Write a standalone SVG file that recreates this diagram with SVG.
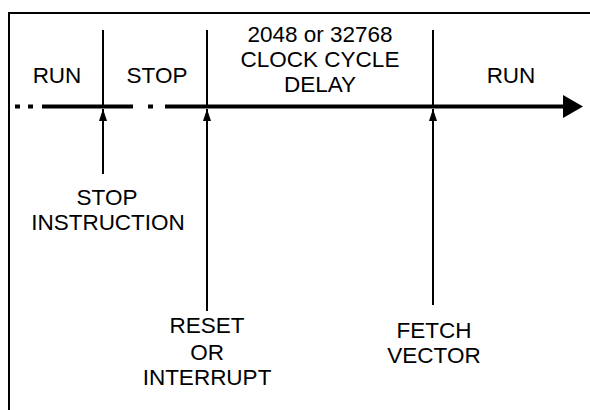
<svg xmlns="http://www.w3.org/2000/svg" width="590" height="410" viewBox="0 0 590 410">
<defs>
<style>
text{font-family:"Liberation Sans",Arial,sans-serif;font-size:22.5px;fill:#000;text-anchor:middle}
.thin{stroke:#000;stroke-width:2;fill:none}
.time{stroke:#000;stroke-width:4;fill:none}
</style>
<marker id="up" viewBox="0 0 12 8" refX="12" refY="4" markerWidth="12" markerHeight="8" markerUnits="userSpaceOnUse" orient="auto">
<path d="M0,0 L12,4 L0,8 Z" fill="#000"/>
</marker>
</defs>
<rect width="590" height="410" fill="#fff"/>
<g id="frame">
<path class="thin" d="M9,410 V13 H590"/>
</g>
<g id="connectors">
<path class="time" d="M15,106.5 H20 M28,106.5 H33 M42,106.5 H133 M148,106.5 H153 M165,106.5 H565"/>
<path d="M563,95 L583,106.5 L563,118 Z" fill="#000"/>
<path class="thin" d="M103,30 V106"/>
<path class="thin" d="M103,174 V109" marker-end="url(#up)"/>
<path class="thin" d="M207,30 V106"/>
<path class="thin" d="M207,311 V109" marker-end="url(#up)"/>
<path class="thin" d="M433,30 V106"/>
<path class="thin" d="M433,305 V109" marker-end="url(#up)"/>
</g>
<g id="run1"><text x="57" y="83">RUN</text></g>
<g id="stop"><text x="157" y="83">STOP</text></g>
<g id="delay"><text x="320" y="42">2048 or 32768</text><text x="320" y="67">CLOCK CYCLE</text><text x="320" y="92">DELAY</text></g>
<g id="run2"><text x="511" y="83">RUN</text></g>
<g id="stopinstr"><text x="107" y="205">STOP</text><text x="108" y="230">INSTRUCTION</text></g>
<g id="reset"><text x="207" y="333">RESET</text><text x="207" y="360">OR</text><text x="207" y="385">INTERRUPT</text></g>
<g id="fetch"><text x="434" y="338">FETCH</text><text x="434" y="363">VECTOR</text></g>
</svg>
